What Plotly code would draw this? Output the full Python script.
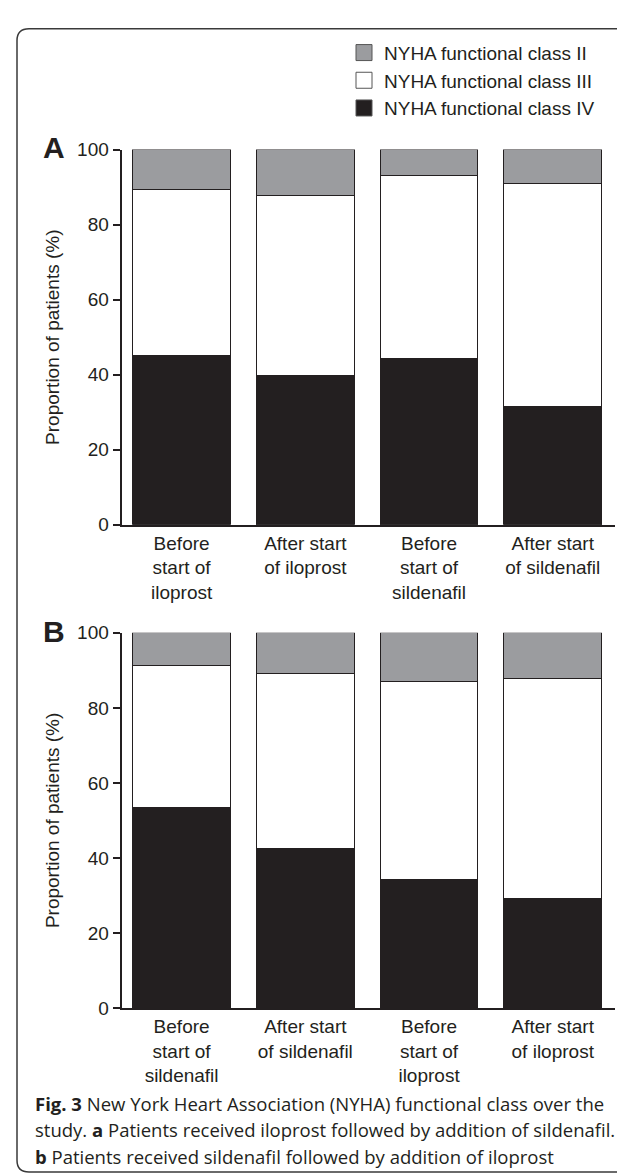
import plotly.graph_objects as go

# ---------------- data ----------------
categories_a = ["Before<br>start of<br>iloprost", "After start<br>of iloprost",
                "Before<br>start of<br>sildenafil", "After start<br>of sildenafil"]
categories_b = ["Before<br>start of<br>sildenafil", "After start<br>of sildenafil",
                "Before<br>start of<br>iloprost", "After start<br>of iloprost"]

class_iv_a = [45.2, 39.7, 44.4, 31.6]
class_iii_a = [44.1, 48.2, 48.6, 59.4]
class_ii_a = [10.7, 12.1, 7.0, 9.0]

class_iv_b = [53.5, 42.5, 34.2, 29.1]
class_iii_b = [37.8, 46.6, 52.7, 58.7]
class_ii_b = [8.7, 10.9, 13.1, 12.2]

series_names = ["NYHA functional class II", "NYHA functional class III", "NYHA functional class IV"]
y_ticks = [0, 20, 40, 60, 80, 100]

# ---------------- styles ----------------
INK = "#231f20"
GRAY = "#9b9c9f"
WHITE = "#ffffff"
FONT = "Liberation Sans, Arial, sans-serif"
W, H = 625, 1176

fig = go.Figure()

def add_panel(cats, iv, iii, ii, xa, ya):
    for vals, col in [(iv, INK), (iii, WHITE), (ii, GRAY)]:
        fig.add_trace(go.Bar(
            x=cats, y=vals, xaxis=xa, yaxis=ya, width=0.79,
            marker=dict(color=col, line=dict(color=INK, width=1)),
            showlegend=False, hoverinfo="skip"))

add_panel(categories_a, class_iv_a, class_iii_a, class_ii_a, "x", "y")
add_panel(categories_b, class_iv_b, class_iii_b, class_ii_b, "x2", "y2")

# legend entries
for name, col in zip(series_names, [GRAY, WHITE, INK]):
    fig.add_trace(go.Scatter(
        x=[None], y=[None], mode="markers", name=name,
        marker=dict(symbol="square", size=16, color=col, line=dict(color="#555", width=1)),
        xaxis="x", yaxis="y"))

def px_x(p):
    return p / W

def px_y(p):
    return 1 - p / H

xdom = [px_x(113.6), px_x(606.6)]
ydom_a = [px_y(516), px_y(134)]
ydom_b = [px_y(1008), px_y(626)]

xcommon = dict(range=[-0.485, 3.5], domain=xdom, showline=True, linecolor=INK, linewidth=2,
               ticks="", showgrid=False, zeroline=False,
               tickfont=dict(family=FONT, size=19, color=INK), fixedrange=True)
ycommon = dict(range=[0, 100], tickvals=y_ticks, showline=True, linecolor=INK, linewidth=2,
               ticks="outside", ticklen=7, tickwidth=2, tickcolor=INK,
               showgrid=False, zeroline=False,
               tickfont=dict(family=FONT, size=19, color=INK),
               title=dict(text="Proportion of patients (%)", font=dict(family=FONT, size=19, color=INK),
                          standoff=12))

fig.update_layout(
    width=W, height=H,
    margin=dict(l=0, r=0, t=0, b=0),
    paper_bgcolor="white", plot_bgcolor="white",
    barmode="stack",
    xaxis=dict(**xcommon, anchor="y"),
    yaxis=dict(**ycommon, domain=ydom_a, anchor="x"),
    xaxis2=dict(**xcommon, anchor="y2"),
    yaxis2=dict(**ycommon, domain=ydom_b, anchor="x2"),
    legend=dict(x=px_x(336), y=px_y(16), xanchor="left", yanchor="top",
                traceorder="normal",
                font=dict(family=FONT, size=19, color=INK), bgcolor="rgba(0,0,0,0)",
                tracegroupgap=0, itemclick=False),
    showlegend=True,
)

# panel letters
for letter, yc in [("A", 132), ("B", 625)]:
    fig.add_annotation(text=f"<b>{letter}</b>", xref="paper", yref="paper",
                       x=px_x(46), y=px_y(yc), showarrow=False, xanchor="center", yanchor="middle",
                       font=dict(family=FONT, size=30, color=INK))

# caption
CAP = "Open Sans, sans-serif"
cap_lines = [
    "<b>Fig. 3</b> New York Heart Association (NYHA) functional class over the",
    "study. <b>a</b> Patients received iloprost followed by addition of sildenafil.",
    "<b>b</b> Patients received sildenafil followed by addition of iloprost",
]
for line, yc in zip(cap_lines, [1105, 1132, 1159]):
    fig.add_annotation(text=line, xref="paper", yref="paper", x=px_x(25), y=px_y(yc),
                       showarrow=False, xanchor="left", yanchor="middle", align="left",
                       font=dict(family=CAP, size=18.5, color=INK))

# rounded frame
x0, x1 = px_x(9), 1.02
yt, yb = px_y(11), px_y(1175)
rx, ry = 12 / W, 12 / H
path = (f"M {x1},{yt} L {x0 + rx},{yt} Q {x0},{yt} {x0},{yt - ry} "
        f"L {x0},{yb + ry} Q {x0},{yb} {x0 + rx},{yb} L {x1},{yb}")
fig.add_shape(type="path", path=path, xref="paper", yref="paper",
              line=dict(color="#3a3a3a", width=1.5), layer="below")

fig.write_html("out.html")
